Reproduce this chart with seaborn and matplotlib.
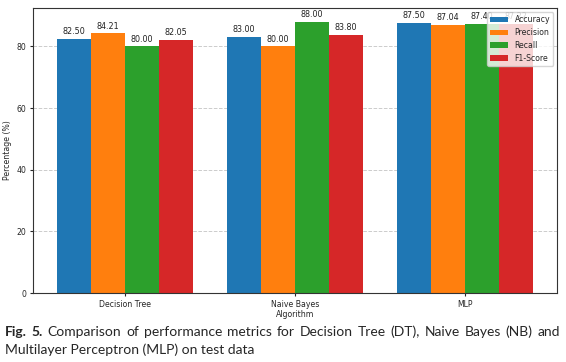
import pandas as pd
import seaborn as sns
import matplotlib.pyplot as plt

algorithms = ['Decision Tree', 'Naive Bayes', 'MLP']
metrics = ['Accuracy', 'Precision', 'Recall', 'F1-Score']
accuracy = [82.50, 83.00, 87.50]
precision = [84.21, 80.00, 87.04]
recall = [80.00, 88.00, 87.40]
f1_score = [82.05, 83.80, 87.22]

rows = []
for vals, m in zip([accuracy, precision, recall, f1_score], metrics):
    for a, v in zip(algorithms, vals):
        rows.append({'Algorithm': a, 'Metric': m, 'Value': v})
df = pd.DataFrame(rows)

sns.set_style('ticks')
plt.rcParams['font.family'] = ['DejaVu Sans']

fig = plt.figure(figsize=(5.66, 3.62), dpi=100)
ax = fig.add_axes([0.0583, 0.1906, 0.926, 0.787])

colors = ['#1f77b4', '#ff7f0e', '#2ca02c', '#d62728']
sns.barplot(data=df, x='Algorithm', y='Value', hue='Metric', palette=colors,
            width=0.8, saturation=1, linewidth=0, ax=ax, zorder=2)

# value labels on top of bars
for c in ax.containers:
    ax.bar_label(c, fmt='%.2f', padding=2, fontsize=5.8, color='#222222')

ax.set_xlim(-0.54, 2.54)
ax.set_ylim(0, 92.4)
ax.set_yticks([0, 20, 40, 60, 80])
ax.yaxis.grid(True, linestyle='--', color='#cccccc', linewidth=0.7, zorder=0)
ax.set_axisbelow(True)
ax.tick_params(labelsize=5.6, length=2.5, pad=2.5)
ax.set_xlabel('Algorithm', fontsize=5.6, labelpad=1)
ax.set_ylabel('Percentage (%)', fontsize=5.6, labelpad=3)
for s in ax.spines.values():
    s.set_visible(True)
    s.set_color('#333333')
    s.set_linewidth(0.8)

leg = ax.legend(loc='upper right', fontsize=5.6, handlelength=2.3,
                framealpha=0.8)
leg.set_zorder(5)

# caption below the chart, first line justified
cap_font = dict(fontsize=10, family=['Lato'], va='center')
line1 = [('Fig.', 'bold'), ('5.', 'bold')] + [
    (w, 'normal') for w in
    'Comparison of performance metrics for Decision Tree (DT), Naive Bayes (NB) and'.split()]
x0, x1 = 5, 560
renderer = fig.canvas.get_renderer()
texts = []
for w, fw in line1:
    t = fig.text(0, 0.083, w, fontweight=fw, **cap_font)
    texts.append(t)
widths = [t.get_window_extent(renderer).width for t in texts]
gap = (x1 - x0 - sum(widths)) / (len(texts) - 1)
x = x0
for t, wd in zip(texts, widths):
    t.set_x(x / fig.bbox.width)
    x += wd + gap
fig.text(x0 / fig.bbox.width, 0.033, 'Multilayer Perceptron (MLP) on test data', **cap_font)

plt.savefig('out.png', dpi=100)
